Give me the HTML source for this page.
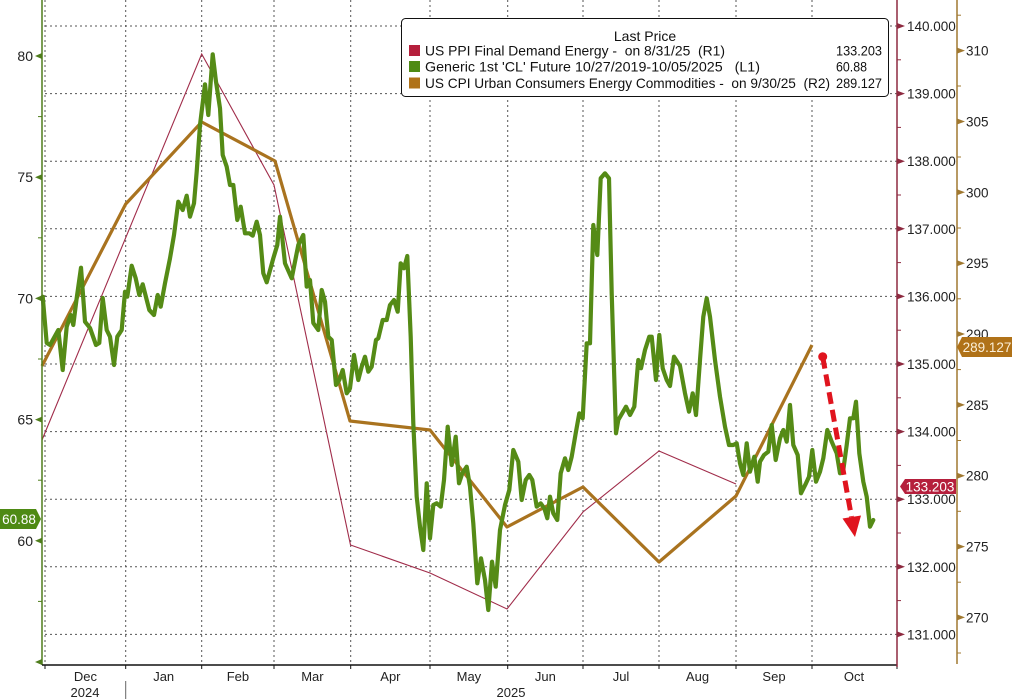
<!DOCTYPE html>
<html><head><meta charset="utf-8"><style>
html,body{margin:0;padding:0;background:#fff;}
svg{display:block;}
text{font-family:"Liberation Sans",sans-serif;}
</style></head><body>
<svg width="1012" height="699" viewBox="0 0 1012 699" xmlns="http://www.w3.org/2000/svg">
<rect width="1012" height="699" fill="#fff"/>
<!-- horizontal gridlines -->
<g stroke="#555" stroke-width="1" stroke-dasharray="2 3">
<line x1="45" y1="26" x2="897" y2="26"/>
<line x1="45" y1="93.6" x2="897" y2="93.6"/>
<line x1="45" y1="161.2" x2="897" y2="161.2"/>
<line x1="45" y1="228.8" x2="897" y2="228.8"/>
<line x1="45" y1="296.4" x2="897" y2="296.4"/>
<line x1="45" y1="364" x2="897" y2="364"/>
<line x1="45" y1="431.6" x2="897" y2="431.6"/>
<line x1="45" y1="499.2" x2="897" y2="499.2"/>
<line x1="45" y1="566.8" x2="897" y2="566.8"/>
<line x1="45" y1="634.4" x2="897" y2="634.4"/>
</g>
<!-- vertical gridlines -->
<g stroke="#555" stroke-width="1" stroke-dasharray="2 3">
<line x1="45" y1="0" x2="45" y2="665"/>
<line x1="125.7" y1="0" x2="125.7" y2="665"/>
<line x1="201.7" y1="0" x2="201.7" y2="665"/>
<line x1="274" y1="0" x2="274" y2="665"/>
<line x1="350.7" y1="0" x2="350.7" y2="665"/>
<line x1="430" y1="0" x2="430" y2="665"/>
<line x1="507.7" y1="0" x2="507.7" y2="665"/>
<line x1="583" y1="0" x2="583" y2="665"/>
<line x1="659" y1="0" x2="659" y2="665"/>
<line x1="736" y1="0" x2="736" y2="665"/>
<line x1="812" y1="0" x2="812" y2="665"/>
</g>

<!-- PPI red thin line -->
<polyline fill="none" stroke="#a02c4a" stroke-width="1.1" points="42,440 201.7,54 274,185 350.5,545 430,573 507,609 583,512 659,451 736,484"/>
<!-- CPI brown line -->
<polyline fill="none" stroke="#a9731f" stroke-width="3.2" stroke-linejoin="round" points="42,366 125.7,204 201.7,122 275,161 350,421 430,430 507,527 583,487 659,562 736,496 812,345"/>
<!-- CL green line -->
<polyline fill="none" stroke="#558b16" stroke-width="4.2" stroke-linejoin="round" stroke-linecap="round" points="42.7,296.7 46.7,343 50,345 58.3,330 62.7,370 66.7,326.7 70.7,315 73.3,325 76.7,298 81,267.7 85,321.7 90,328 96,345 99.3,343 102.7,298 106.7,330 110,336.7 114,365 117.3,336.7 121.7,330 125,291.7 127.3,296.7 131.7,265.7 135.7,278.3 139.3,295 142.7,284.3 149.3,310 154,315 157.7,295 160.7,306.7 165,283.3 170,258.3 174,235 178.3,201.7 182.7,210 186.7,195.7 190,216.7 194,203.3 196.7,171.7 200,125 205,84.3 208.3,115 212.7,54.3 216,81.7 220,108.3 222.7,155 226.7,166.7 230,185 233.3,185 237.3,220 240.7,206.7 245,233.3 249.3,233.3 252.7,235.7 256.7,221.7 260,235 263.3,273.3 266.7,282.3 273.3,258.3 277.3,245 280,216.7 285,263.3 291.7,278.3 298.3,245 303.3,235 306.7,286.7 310,280 313.3,323 318.3,330 321.7,290 325,301.7 328.3,336.7 331.7,340 336,385 339.3,380 342.7,370 346.7,393.3 350,388.3 354,355 358.3,380 361.7,366.7 365,356.7 368.3,371.7 371.7,366.7 376,340 378.3,338.3 382.7,320 386.7,320 390,305 394,300 397.7,311.7 400.7,263.3 404,268.3 407.3,256 410.7,336.7 413.3,423.3 416.7,496.7 420,526.7 423.3,550 426.7,483.3 430,538.3 433.3,505 436.7,503.3 440.7,506.7 444,480 447.7,426.7 451.7,465 455.7,436.7 459,483.3 462.3,473.3 466.7,466.7 470,486.7 473.3,523.3 477.3,583.3 481,558.3 485,580 488.3,610 492,561.7 495.7,586.7 500,530 505,505 509.3,490 513.3,450 518.3,461.7 521.7,500 525.7,480 529.3,475 532.3,480 536.7,506.7 540.7,503.3 544.3,508.3 547.3,518.3 550,496.7 553.3,513.3 557.3,520 560.7,473.3 565,458.3 568.3,470 571.7,456.7 575.7,433.3 579.3,413.3 582.7,418.3 586.7,343.3 590,343.3 593.3,225 597.3,255 600.7,178.3 605,173.3 609,178.3 611.7,293.3 616,433.3 618.3,420 626,406.7 630,415 634.3,406.7 638.3,360 641,368.3 645,350 649.3,336.7 651.7,336.7 656,380 659.3,335 662.7,368.3 666.7,380 670,386 674,356.7 680,366 685,393.3 689,411.7 692.7,393.3 696,415 700,360 703.3,316.7 706.7,298.3 710,316.7 715,360 720,396.7 725,426.7 729,445 733.3,445 736.7,443.3 740,463.3 743.3,475 746.7,443.3 750,471.7 754.3,456.7 757.7,481.7 760,461.7 764,455 768.3,451.7 771.7,425 775.7,460 780,438.3 783.3,430 786.7,441.7 790,405 793.3,445 797.7,455 801,493.3 806,483.3 809,476.7 812.3,450 816,481.7 820,471.7 823.3,458.3 827.3,430 831.7,441.7 836.7,453.3 840,473.3 843.3,470 846.7,445 850,418.3 853.3,418.3 856,401.7 859.3,453.3 863.3,481.7 866.7,496.7 870,526.7 873.3,520"/>

<!-- red dashed arrow -->
<line x1="822.7" y1="356.7" x2="851.5" y2="517" stroke="#e0141e" stroke-width="5" stroke-dasharray="12 6"/>
<circle cx="822.7" cy="356.7" r="4.5" fill="#e0141e"/>
<polygon points="842.5,518.5 861,515.5 855,537" fill="#e0141e"/>

<!-- left axis -->
<line x1="42" y1="0" x2="42" y2="665" stroke="#4f7d1c" stroke-width="1.5"/>
<g fill="#4f7d1c">
<polygon points="35,56 42,53 42,59"/>
<polygon points="35,177.2 42,174.2 42,180.2"/>
<polygon points="35,298.4 42,295.4 42,301.4"/>
<polygon points="35,419.6 42,416.6 42,422.6"/>
<polygon points="35,540.8 42,537.8 42,543.8"/>
<polygon points="35,662 42,659 42,665"/>
</g>
<g stroke="#4f7d1c" stroke-width="1">
<line x1="38" y1="116.6" x2="42" y2="116.6"/>
<line x1="38" y1="237.8" x2="42" y2="237.8"/>
<line x1="38" y1="359" x2="42" y2="359"/>
<line x1="38" y1="480.2" x2="42" y2="480.2"/>
<line x1="38" y1="601.4" x2="42" y2="601.4"/>
</g>
<g font-size="14" fill="#222" text-anchor="end">
<text x="33" y="61">80</text>
<text x="33" y="182.2">75</text>
<text x="33" y="303.4">70</text>
<text x="33" y="424.6">65</text>
<text x="33" y="545.8">60</text>
</g>
<polygon points="0,509 36,509 41,519 36,529 0,529" fill="#4e8a14"/>
<text x="19" y="524" font-size="13.5" fill="#fff" text-anchor="middle">60.88</text>

<!-- x axis -->
<line x1="42" y1="665" x2="897" y2="665" stroke="#111" stroke-width="1.5"/>
<g stroke="#111" stroke-width="1">
<line x1="45" y1="665" x2="45" y2="669"/>
<line x1="125.7" y1="665" x2="125.7" y2="669"/>
<line x1="201.7" y1="665" x2="201.7" y2="669"/>
<line x1="274" y1="665" x2="274" y2="669"/>
<line x1="350.7" y1="665" x2="350.7" y2="669"/>
<line x1="430" y1="665" x2="430" y2="669"/>
<line x1="507.7" y1="665" x2="507.7" y2="669"/>
<line x1="583" y1="665" x2="583" y2="669"/>
<line x1="659" y1="665" x2="659" y2="669"/>
<line x1="736" y1="665" x2="736" y2="669"/>
<line x1="812" y1="665" x2="812" y2="669"/>
<line x1="897" y1="665" x2="897" y2="669"/>
</g>
<line x1="125.7" y1="681" x2="125.7" y2="699" stroke="#666" stroke-width="1"/>
<g font-size="13" fill="#222" text-anchor="middle">
<text x="85.4" y="681">Dec</text>
<text x="163.7" y="681">Jan</text>
<text x="237.9" y="681">Feb</text>
<text x="312.4" y="681">Mar</text>
<text x="390.4" y="681">Apr</text>
<text x="468.9" y="681">May</text>
<text x="545.4" y="681">Jun</text>
<text x="621" y="681">Jul</text>
<text x="697.5" y="681">Aug</text>
<text x="774" y="681">Sep</text>
<text x="854" y="681">Oct</text>
<text x="85" y="697">2024</text>
<text x="511" y="697">2025</text>
</g>

<!-- right axis R1 (red) -->
<line x1="897" y1="0" x2="897" y2="667" stroke="#8e2a40" stroke-width="1.5"/>
<g fill="#8e2a40">
<polygon points="897,23 897,29 905,26"/>
<polygon points="897,90.6 897,96.6 905,93.6"/>
<polygon points="897,158.2 897,164.2 905,161.2"/>
<polygon points="897,225.8 897,231.8 905,228.8"/>
<polygon points="897,293.4 897,299.4 905,296.4"/>
<polygon points="897,361 897,367 905,364"/>
<polygon points="897,428.6 897,434.6 905,431.6"/>
<polygon points="897,496.2 897,502.2 905,499.2"/>
<polygon points="897,563.8 897,569.8 905,566.8"/>
<polygon points="897,631.4 897,637.4 905,634.4"/>
</g>
<g stroke="#8e2a40" stroke-width="1">
<line x1="897" y1="59.8" x2="901" y2="59.8"/>
<line x1="897" y1="127.4" x2="901" y2="127.4"/>
<line x1="897" y1="195" x2="901" y2="195"/>
<line x1="897" y1="262.6" x2="901" y2="262.6"/>
<line x1="897" y1="330.2" x2="901" y2="330.2"/>
<line x1="897" y1="397.8" x2="901" y2="397.8"/>
<line x1="897" y1="465.4" x2="901" y2="465.4"/>
<line x1="897" y1="533" x2="901" y2="533"/>
<line x1="897" y1="600.6" x2="901" y2="600.6"/>
</g>
<g font-size="13.5" fill="#222">
<text x="907" y="31">140.000</text>
<text x="907" y="98.6">139.000</text>
<text x="907" y="166.2">138.000</text>
<text x="907" y="233.8">137.000</text>
<text x="907" y="301.4">136.000</text>
<text x="907" y="369">135.000</text>
<text x="907" y="436.6">134.000</text>
<text x="907" y="504.2">133.000</text>
<text x="907" y="571.8">132.000</text>
<text x="907" y="639.4">131.000</text>
</g>
<polygon points="900,486.5 905,479 956,479 956,494 905,494" fill="#b51f3c"/>
<text x="930" y="491.5" font-size="13.5" fill="#fff" text-anchor="middle">133.203</text>

<!-- right axis R2 (brown) -->
<line x1="957" y1="0" x2="957" y2="664" stroke="#a07830" stroke-width="1.5"/>
<g fill="#a07830">
<polygon points="957,47.6 957,53.6 965,50.6"/>
<polygon points="957,118.5 957,124.5 965,121.5"/>
<polygon points="957,189.3 957,195.3 965,192.3"/>
<polygon points="957,260.2 957,266.2 965,263.2"/>
<polygon points="957,331 957,337 965,334"/>
<polygon points="957,401.9 957,407.9 965,404.9"/>
<polygon points="957,472.7 957,478.7 965,475.7"/>
<polygon points="957,543.6 957,549.6 965,546.6"/>
<polygon points="957,614.4 957,620.4 965,617.4"/>
</g>
<g stroke="#a07830" stroke-width="1">
<line x1="957" y1="15.2" x2="961" y2="15.2"/>
<line x1="957" y1="86" x2="961" y2="86"/>
<line x1="957" y1="157" x2="961" y2="157"/>
<line x1="957" y1="228" x2="961" y2="228"/>
<line x1="957" y1="298.8" x2="961" y2="298.8"/>
<line x1="957" y1="369.6" x2="961" y2="369.6"/>
<line x1="957" y1="440.5" x2="961" y2="440.5"/>
<line x1="957" y1="511.3" x2="961" y2="511.3"/>
<line x1="957" y1="582.2" x2="961" y2="582.2"/>
<line x1="957" y1="653" x2="961" y2="653"/>
</g>
<g font-size="13.5" fill="#222">
<text x="966" y="55.6">310</text>
<text x="966" y="126.5">305</text>
<text x="966" y="197.3">300</text>
<text x="966" y="268.2">295</text>
<text x="966" y="339">290</text>
<text x="966" y="409.9">285</text>
<text x="966" y="480.7">280</text>
<text x="966" y="551.6">275</text>
<text x="966" y="622.4">270</text>
</g>
<polygon points="957,347 962,337 1012,337 1012,357 962,357" fill="#b07218"/>
<text x="987" y="352" font-size="13.5" fill="#fbefd8" text-anchor="middle">289.127</text>

<!-- legend -->
<rect x="401.5" y="18.5" width="487" height="78" rx="4" ry="4" fill="#fff" stroke="#111" stroke-width="1"/>
<text x="645" y="41" font-size="14" fill="#111" text-anchor="middle">Last Price</text>
<rect x="409" y="45" width="11" height="11" fill="#b51f3c"/>
<rect x="409" y="61" width="11" height="11" fill="#4e8a14"/>
<rect x="409" y="77.5" width="11" height="11" fill="#b07218"/>
<g font-size="14" fill="#111">
<text xml:space="preserve" x="425" y="55.5" textLength="300" lengthAdjust="spacingAndGlyphs">US PPI Final Demand Energy -  on 8/31/25  (R1)</text>
<text xml:space="preserve" x="425" y="71.6" textLength="335" lengthAdjust="spacingAndGlyphs">Generic 1st 'CL' Future 10/27/2019-10/05/2025   (L1)</text>
<text xml:space="preserve" x="425" y="88.1" textLength="405" lengthAdjust="spacingAndGlyphs">US CPI Urban Consumers Energy Commodities -  on 9/30/25  (R2)</text>
<text x="836" y="55.5" textLength="46" lengthAdjust="spacingAndGlyphs">133.203</text>
<text x="836" y="71.6" textLength="31" lengthAdjust="spacingAndGlyphs">60.88</text>
<text x="836" y="88.1" textLength="46" lengthAdjust="spacingAndGlyphs">289.127</text>
</g>
</svg>
</body></html>
